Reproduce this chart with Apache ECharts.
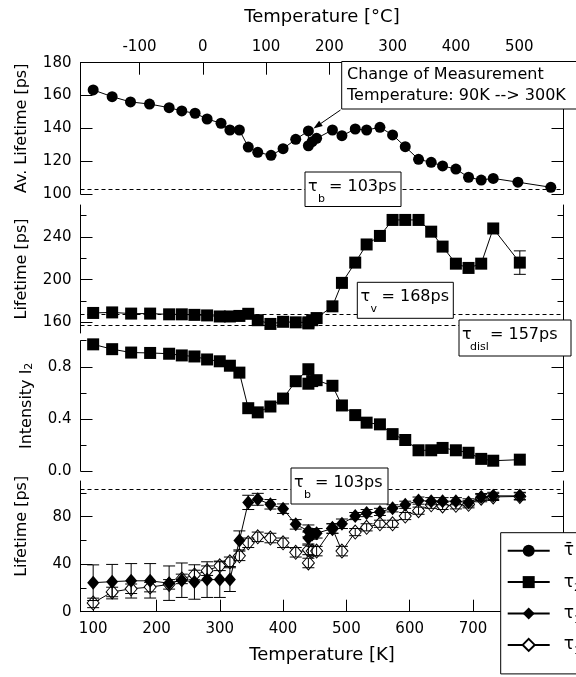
<!DOCTYPE html>
<html>
<head>
<meta charset="utf-8">
<script src="https://cdn.jsdelivr.net/npm/echarts@6/dist/echarts.min.js"></script>
<style>html,body{margin:0;padding:0;background:#fff}#c{width:576px;height:677px}</style>
</head>
<body>
<div id="c"></div>
<script>
// ---------- data ----------
const tempAvgK = [100,130,159,189,220,240,261,280,302,316,331,345,360,381,400,420,440,440,446,453,478,493,514,532,553,573,593,614,634,652,673,693,713,732,771,823];
const avgLifetime = [163.4,159.3,156.1,154.8,152.6,150.6,149.2,145.7,143.1,139,139,128.6,125.4,123.6,127.6,133.3,138.4,129.4,131.9,133.9,139,135.5,139.6,139,140.6,136,128.8,121.1,119.3,117.1,115.2,110.2,108.5,109.5,107.2,104.1];

const tempK = [100,130,160,190,220,240,260,280,300,316,331,345,360,380,400,420,440,440,446,453,478,493,514,532,553,573,593,614,634,652,673,693,713,732,774];
const tau2 = [168.8,169.3,168.2,168.2,167.5,167.5,167,166.5,165.5,165.5,166,168,162,158.5,160.5,160,160,159,162,164,175,197,216,233,241,256,256,256,245,231,215,211,215,248,216];
const tau2Err = [0,0,0,0,0,0,0,0,0,0,0,0,0,0,0,0,0,0,0,0,0,0,0,0,0,0,0,0,0,0,0,0,0,0,11];
const intensityI2 = [0.972,0.935,0.909,0.906,0.90,0.887,0.879,0.856,0.842,0.808,0.755,0.482,0.45,0.495,0.556,0.689,0.781,0.67,0.69,0.697,0.654,0.503,0.429,0.371,0.358,0.283,0.238,0.159,0.159,0.177,0.159,0.14,0.093,0.079,0.087];
const tau1 = [24.4,25.3,26,26,24,26.5,25,27,27,27,60,92,94.6,90.4,86.7,73.5,68,62,65,66,70,74,80.5,83,84,87,90,93.5,93,93,93,92,96.5,97.5,97.5];
const tau1Err = [15,14.5,14.5,14.5,14.5,14.5,14.5,15,15,10,8,6,5,4,4,4,5,5,4,4,4,4,3,3,3,3,3,3,3,3,3,3,3,3,3];
const tau1b = [7.4,16.6,19.3,20.7,23,27.6,30.9,34.5,38.6,42,47,58,63,62,58,50,52,41,51,51,70,51,67,71,74,74,80.5,85,90,89,89.5,90.4,95.5,96.6,97];
const tau1bErr = [4,4,4,4,4,4,4,4,4,4,4,4,4,4,4,4,4,4,4,4,4,4,3,3,3,3,3,3,3,3,3,3,3,3,3];

const tauB = 103, tauV = 168, tauDisl = 157;

const xTicksK = [100,200,300,400,500,600,700,800];
const xTicksC = [-100,0,100,200,300,400,500];
const p1Major = [100,120,140,160,180];
const p2Major = [160,200,240], p2Minor = [180,220,260];
const p3Major = [0,0.4,0.8], p3Minor = [0.2,0.6,1.0];
const p4Major = [0,40,80], p4Minor = [20,60,100];

// ---------- helpers ----------
const F = 'DejaVu Sans';
const K = '#000';
const XMIN = 80, XMAX = 843;
const pair = (xs, ys) => xs.map((x, i) => [x, ys[i]]);
const lineSt = {color: K, width: 1};

function hiddenX(g) {
  return {type: 'value', gridIndex: g, min: XMIN, max: XMAX, show: false};
}
function yAxesFor(g, min, max, majors, minors, labelFmt, name, nameGap, namePad) {
  const common = {type: 'value', gridIndex: g, min: min, max: max, splitLine: {show: false}};
  const mainL = Object.assign({}, common, {
    position: 'left',
    axisLine: {show: true, onZero: false, lineStyle: lineSt},
    axisTick: {show: true, inside: true, length: 12, customValues: majors, lineStyle: lineSt},
    axisLabel: {show: true, customValues: majors, formatter: labelFmt, color: K, fontFamily: F, fontSize: 15, margin: 9},
    name: name, nameLocation: 'middle', nameGap: nameGap,
    nameTextStyle: {color: K, fontFamily: F, fontSize: 16, padding: namePad || 0,
      rich: {a: {fontFamily: F, fontSize: 16, color: K}, s: {fontFamily: F, fontSize: 11, color: K, verticalAlign: 'bottom'}}}
  });
  const mainR = Object.assign({}, common, {
    position: 'right',
    axisLine: {show: true, onZero: false, lineStyle: lineSt},
    axisTick: {show: true, inside: true, length: 12, customValues: majors, lineStyle: lineSt},
    axisLabel: {show: false}
  });
  const minorL = Object.assign({}, common, {
    position: 'left',
    axisLine: {show: false, onZero: false},
    axisTick: {show: minors.length > 0, inside: true, length: 6, customValues: minors.length ? minors : [min], lineStyle: lineSt},
    axisLabel: {show: false}
  });
  const minorR = Object.assign({}, minorL, {position: 'right'});
  return [mainL, mainR, minorL, minorR];
}

function errRender(params, api) {
  const x = api.value(0);
  const p1 = api.coord([x, api.value(1)]);
  const p2 = api.coord([x, api.value(2)]);
  const w = 6;
  const st = {stroke: K, lineWidth: 1};
  return {type: 'group', children: [
    {type: 'line', shape: {x1: p1[0], y1: p1[1], x2: p2[0], y2: p2[1]}, style: st},
    {type: 'line', shape: {x1: p1[0] - w, y1: p1[1], x2: p1[0] + w, y2: p1[1]}, style: st},
    {type: 'line', shape: {x1: p2[0] - w, y1: p2[1], x2: p2[0] + w, y2: p2[1]}, style: st}
  ]};
}
function errSeries(xi, yi, xs, ys, es, z) {
  const data = [];
  xs.forEach((x, i) => { if (es[i] > 0) data.push([x, ys[i] - es[i], ys[i] + es[i]]); });
  return {type: 'custom', xAxisIndex: xi, yAxisIndex: yi, data: data, renderItem: errRender,
    encode: {x: 0, y: [1, 2]}, clip: false, silent: true, z: z};
}
function dash(vals) {
  return {silent: true, symbol: ['none', 'none'], label: {show: false},
    lineStyle: {type: [4, 3], color: K, width: 1},
    data: vals.map(v => ({yAxis: v}))};
}

const txt = (s, x, y, size) => ({type: 'text', z: 101, style: {text: s, x: x, y: y, fill: K,
  font: size + 'px "DejaVu Sans"', align: 'left', verticalAlign: 'middle', textAlign: 'left', textVerticalAlign: 'middle'}});

// label boxes with subscripts
function tauBox(x, y, w, h, tx, ty, sub, subDx, rest, restDx) {
  return {type: 'group', z: 100, children: [
    {type: 'rect', shape: {x: x, y: y, width: w, height: h}, style: {fill: '#fff', stroke: K, lineWidth: 1}, z: 100},
    txt('τ', tx, ty, 16),
    txt(sub, tx + subDx, ty + 12, 11),
    txt(rest, tx + restDx, ty, 16)
  ]};
}

// arrow
const aFrom = [340.5, 110], aTo = [313.5, 128.5];
const dx = aTo[0] - aFrom[0], dy = aTo[1] - aFrom[1], dl = Math.hypot(dx, dy);
const ux = dx / dl, uy = dy / dl, hl = 9, hw = 3.2;
const bx = aTo[0] - ux * hl, by = aTo[1] - uy * hl;
const arrowHead = [[aTo[0], aTo[1]], [bx - uy * hw, by + ux * hw], [bx + uy * hw, by - ux * hw]];

const legendNames = ['τ̄', 'τ₂', 'τ₁', 'τ₁′'];
const legendFmt = {'τ̄': '{t|τ̄}', 'τ₂': '{t|τ}{s|2}', 'τ₁': '{t|τ}{s|1}', 'τ₁′': '{t|τ}{s|1}'};

const chart = echarts.init(document.getElementById('c'), null, {renderer: 'canvas'});
const L = 80.5, R = 576 - 563.5;

const option = {
  animation: false,
  backgroundColor: '#fff',
  textStyle: {fontFamily: F},
  grid: [
    {left: L, right: R, top: 62.7, height: 131.3},
    {left: L, right: R, top: 205, height: 128},
    {left: L, right: R, top: 340.7, height: 130.3},
    {left: L, right: R, top: 481, height: 130.7}
  ],
  xAxis: [
    hiddenX(0), hiddenX(1), hiddenX(2),
    {type: 'value', gridIndex: 3, min: XMIN, max: XMAX, position: 'bottom',
      axisLine: {show: true, onZero: false, lineStyle: lineSt},
      axisTick: {show: true, inside: true, length: 12, customValues: xTicksK, lineStyle: lineSt},
      axisLabel: {customValues: xTicksK, color: K, fontFamily: F, fontSize: 15, margin: 10},
      splitLine: {show: false},
      name: 'Temperature [K]', nameLocation: 'middle', nameGap: 35,
      nameTextStyle: {color: K, fontFamily: F, fontSize: 18}},
    {type: 'value', gridIndex: 0, min: XMIN - 273.15, max: XMAX - 273.15, position: 'top',
      axisLine: {show: true, onZero: false, lineStyle: lineSt},
      axisTick: {show: true, inside: true, length: 12, customValues: xTicksC, lineStyle: lineSt},
      axisLabel: {customValues: xTicksC, color: K, fontFamily: F, fontSize: 15, margin: 8},
      splitLine: {show: false},
      name: 'Temperature [°C]', nameLocation: 'middle', nameGap: 36,
      nameTextStyle: {color: K, fontFamily: F, fontSize: 18}}
  ],
  yAxis: [].concat(
    yAxesFor(0, 100, 180, p1Major, [], v => String(v), 'Av. Lifetime [ps]', 51),
    yAxesFor(1, 150, 270, p2Major, p2Minor, v => String(v), 'Lifetime [ps]', 51),
    yAxesFor(2, 0, 1.0, p3Major, p3Minor, v => v.toFixed(1), '{a|Intensity I}{s|2}', 46),
    yAxesFor(3, 0, 110, p4Major, p4Minor, v => String(v), 'Lifetime [ps]', 51, [0, 0, 0, 40])
  ),
  legend: {
    orient: 'vertical', left: 500.7, top: 532.7, height: 180,
    padding: [6, 60, 17, 6], itemGap: 7.4, itemWidth: 42, itemHeight: 15,
    backgroundColor: '#fff', borderColor: K, borderWidth: 1, borderRadius: 0,
    selectedMode: false, z: 20,
    data: legendNames,
    formatter: n => legendFmt[n],
    textStyle: {color: K, fontFamily: F, fontSize: 17, lineHeight: 24,
      rich: {t: {fontFamily: F, fontSize: 17, color: K, lineHeight: 24, padding: [0, 0, 0, 9]},
             s: {fontFamily: F, fontSize: 11, color: K, lineHeight: 24, verticalAlign: 'bottom'}}}
  },
  series: [
    {name: 'τ̄', type: 'line', xAxisIndex: 0, yAxisIndex: 0, data: pair(tempAvgK, avgLifetime),
      symbol: 'circle', symbolSize: 11, color: K, itemStyle: {color: K}, lineStyle: lineSt,
      markLine: dash([tauB]), z: 3},
    {name: 'τ₂', type: 'line', xAxisIndex: 1, yAxisIndex: 4, data: pair(tempK, tau2),
      symbol: 'rect', symbolSize: 12, color: K, itemStyle: {color: K}, lineStyle: lineSt,
      markLine: dash([tauV, tauDisl]), z: 3},
    errSeries(1, 4, tempK, tau2, tau2Err, 2),
    {name: 'I₂', type: 'line', xAxisIndex: 2, yAxisIndex: 8, data: pair(tempK, intensityI2),
      symbol: 'rect', symbolSize: 12, color: K, itemStyle: {color: K}, lineStyle: lineSt, z: 3},
    {name: 'τ₁′', type: 'line', xAxisIndex: 3, yAxisIndex: 12, data: pair(tempK, tau1b),
      symbol: 'diamond', symbolSize: [12, 14], color: '#fff',
      itemStyle: {color: '#fff', borderColor: K, borderWidth: 1}, lineStyle: lineSt, z: 3},
    errSeries(3, 12, tempK, tau1b, tau1bErr, 4),
    errSeries(3, 12, tempK, tau1, tau1Err, 4),
    {name: 'τ₁', type: 'line', xAxisIndex: 3, yAxisIndex: 12, data: pair(tempK, tau1),
      symbol: 'diamond', symbolSize: [12, 14], color: K, itemStyle: {color: K}, lineStyle: lineSt,
      markLine: dash([tauB]), z: 5}
  ],
  graphic: [
    {type: 'rect', z: 100, shape: {x: 341.7, y: 61.5, width: 240, height: 47.5}, style: {fill: '#fff', stroke: K, lineWidth: 1}},
    txt('Change of Measurement', 347, 75, 16),
    txt('Temperature: 90K --> 300K', 347, 96, 16),
    {type: 'line', z: 101, shape: {x1: aFrom[0], y1: aFrom[1], x2: bx, y2: by}, style: {stroke: K, lineWidth: 1}},
    {type: 'polygon', z: 101, shape: {points: arrowHead}, style: {fill: K}},
    tauBox(305, 172, 96, 34.5, 308, 187, 'b', 10, '= 103ps', 21),
    tauBox(357.3, 282.3, 96, 36, 360.5, 297, 'v', 10, '= 168ps', 21),
    tauBox(459, 320, 112, 36, 462, 335, 'disl', 8, '= 157ps', 28),
    tauBox(291, 468, 97, 36, 294, 483, 'b', 10, '= 103ps', 21)
  ]
};
chart.setOption(option);
</script>
</body>
</html>
